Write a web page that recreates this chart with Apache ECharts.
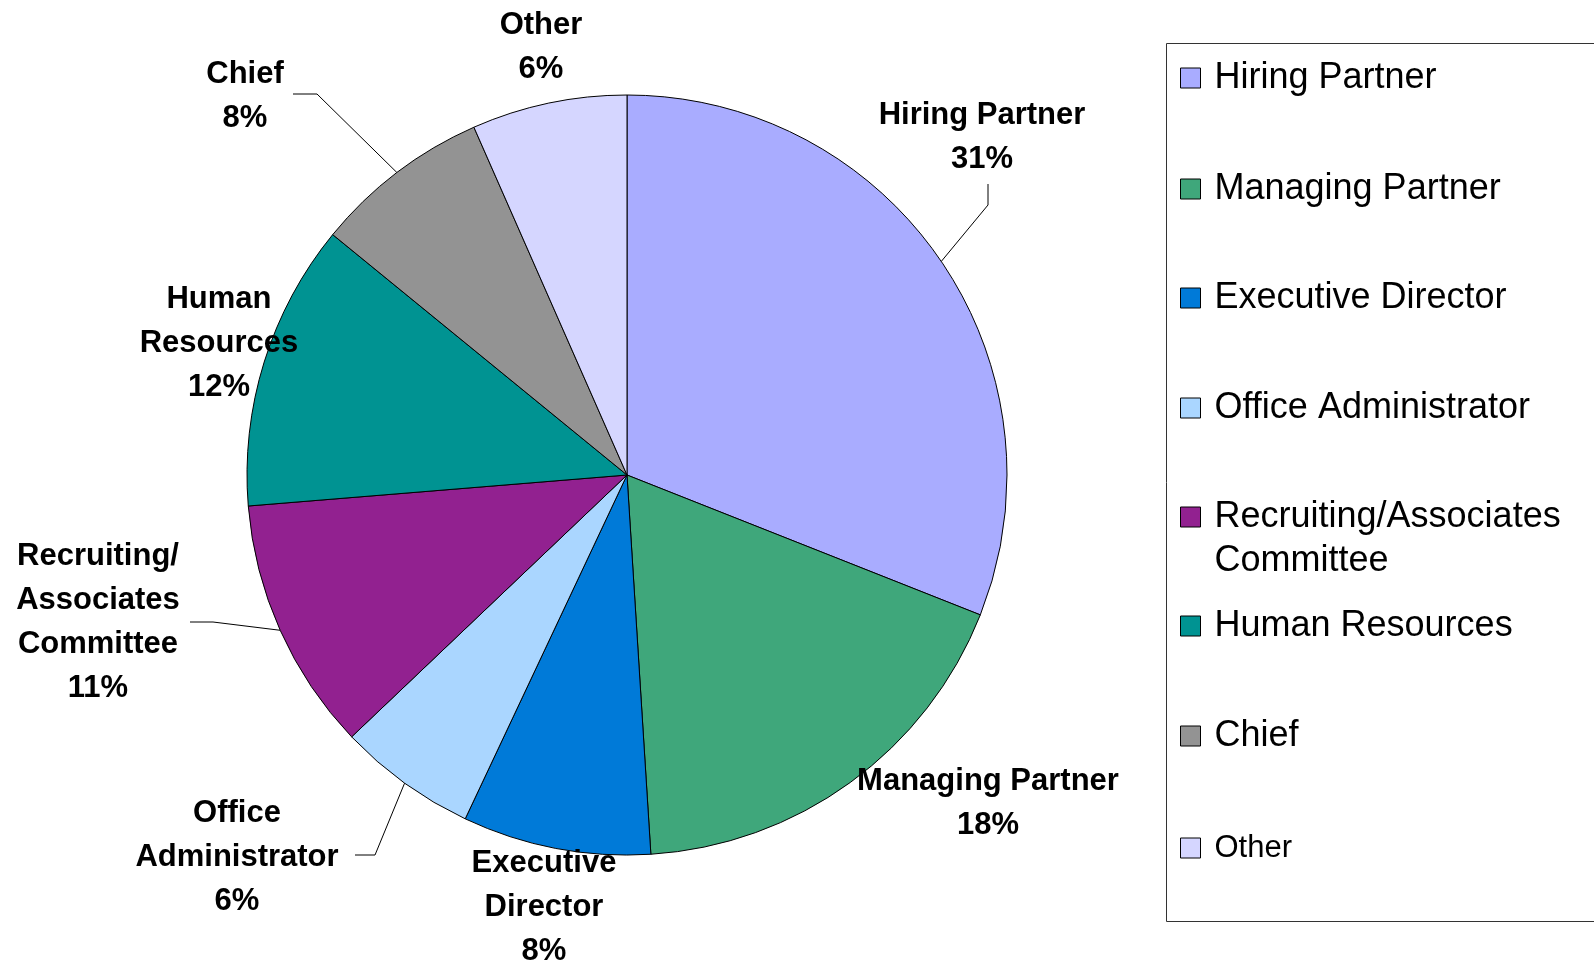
<!DOCTYPE html>
<html>
<head>
<meta charset="utf-8">
<script src="https://cdn.jsdelivr.net/npm/echarts@6/dist/echarts.min.js"></script>
<style>
html, body { margin: 0; padding: 0; background: #fff; }
#chart { width: 1594px; height: 961px; }
</style>
</head>
<body>
<div id="chart"></div>
<script>
// data
const categories = ['Hiring Partner', 'Managing Partner', 'Executive Director', 'Office Administrator',
    'Recruiting/Associates Committee', 'Human Resources', 'Chief', 'Other'];
const labelNames = ['Hiring Partner', 'Managing Partner', 'Executive\nDirector', 'Office\nAdministrator',
    'Recruiting/\nAssociates\nCommittee', 'Human\nResources', 'Chief', 'Other'];
// slice sizes, percent labels as printed
const values = [31.0, 18.0, 8.0, 5.9, 10.8, 12.2, 7.5, 6.6];
const pctLabels = ['31%', '18%', '8%', '6%', '11%', '12%', '8%', '6%'];
const colors = ['#A9ACFF', '#3FA77B', '#007AD8', '#AAD6FF', '#922190', '#009392', '#939393', '#D5D6FF'];

// label placement (x centre, y top, optional leader line bend + end)
const labelPos = [
    { x: 982, y: 93, line: [[988, 205], [988, 184]] },
    { x: 988, y: 759 },
    { x: 544, y: 841 },
    { x: 237, y: 791, line: [[375, 855], [355, 855]] },
    { x: 98, y: 534, line: [[213, 622], [190, 622]] },
    { x: 219, y: 277 },
    { x: 245, y: 52, line: [[317, 94], [293, 94]] },
    { x: 541, y: 3 }
];
// legend rows: top of each item
const legendTops = [53, 164, 273, 383, 446, 601, 711, 823];

const myChart = echarts.init(document.getElementById('chart'));

const legends = categories.map((name, i) => ({
    data: [name],
    orient: 'vertical',
    left: 1175,
    top: legendTops[i],
    icon: 'rect',
    itemWidth: 20,
    itemHeight: 20,
    selectedMode: false,
    itemStyle: { borderColor: '#000', borderWidth: 1 },
    // leading blank line keeps the marker level with the first line
    formatter: (n) => n === 'Recruiting/Associates Committee' ? '\nRecruiting/Associates\nCommittee' : n,
    textStyle: {
        color: '#000',
        fontFamily: 'Liberation Sans, Arial, sans-serif',
        fontSize: name === 'Other' ? 31 : 36,
        lineHeight: i === 4 ? 44 : 40,
        padding: [0, 0, 0, 9]
    }
}));

const option = {
    backgroundColor: '#fff',
    animation: false,
    legend: legends,
    graphic: [{
        type: 'rect',
        shape: { x: 1166.5, y: 43.5, width: 440, height: 878 },
        style: { fill: 'none', stroke: '#333', lineWidth: 1 },
        silent: true
    }],
    series: [{
        type: 'pie',
        center: [627, 475],
        radius: 380,
        startAngle: 90,
        clockwise: true,
        itemStyle: { borderColor: '#000', borderWidth: 1 },
        label: {
            show: true,
            color: '#000',
            fontFamily: 'Liberation Sans, Arial, sans-serif',
            fontWeight: 'bold',
            fontSize: 31,
            lineHeight: 44,
            align: 'center',
            formatter: (p) => labelNames[p.dataIndex] + '\n' + pctLabels[p.dataIndex]
        },
        labelLine: {
            lineStyle: { color: '#000', width: 1 }
        },
        labelLayout: function (params) {
            const p = labelPos[params.dataIndex];
            const out = { x: p.x, y: p.y, align: 'center', verticalAlign: 'top' };
            if (p.line && params.labelLinePoints) {
                out.labelLinePoints = [params.labelLinePoints[0], p.line[0], p.line[1]];
            }
            return out;
        },
        data: categories.map((name, i) => ({
            name: name,
            value: values[i],
            itemStyle: { color: colors[i] },
            labelLine: { show: !!labelPos[i].line }
        }))
    }]
};

myChart.setOption(option);
</script>
</body>
</html>
